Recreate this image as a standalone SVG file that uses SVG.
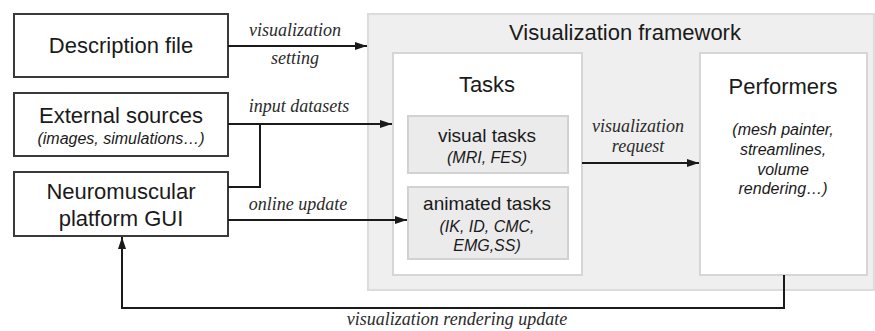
<svg xmlns="http://www.w3.org/2000/svg" width="875" height="331" viewBox="0 0 875 331">
<style>
.box{fill:#ffffff;stroke:#3a3a3a;stroke-width:2}
.frame{fill:#efefef;stroke:#dcdcdc;stroke-width:2}
.inner{fill:#ffffff;stroke:#d6d6d6;stroke-width:2}
.sub{fill:#ebebeb;stroke:#d2d2d2;stroke-width:2}
.t{font-family:"Liberation Sans",Arial,sans-serif;fill:#1a1a1a;text-anchor:middle}
.big{font-size:22px}
.mid{font-size:19px}
.it{font-size:16px;font-style:italic}
.lbl{font-family:"Liberation Serif","Times New Roman",serif;font-style:italic;font-size:18px;fill:#2a2a2a;text-anchor:middle}
.c{fill:none;stroke:#1a1a1a;stroke-width:2}
</style>
<defs>
<marker id="ah" viewBox="0 0 12 8" refX="12" refY="4" markerWidth="12" markerHeight="8" markerUnits="userSpaceOnUse" orient="auto">
<path d="M0,0 L12,4 L0,8 Z" fill="#1a1a1a"/>
</marker>
</defs>
<rect width="875" height="331" fill="#ffffff"/>

<g id="framework">
<rect class="frame" x="368" y="14" width="506" height="276"/>
<text class="t big" x="625" y="40">Visualization framework</text>
</g>
<g id="tasks">
<rect class="inner" x="393" y="53" width="189" height="222"/>
<text class="t big" x="487" y="92">Tasks</text>
</g>
<g id="visual-tasks">
<rect class="sub" x="408" y="116" width="160" height="57"/>
<text class="t mid" x="487" y="142">visual tasks</text>
<text class="t it" x="487" y="163">(MRI, FES)</text>
</g>
<g id="animated-tasks">
<rect class="sub" x="408" y="187" width="160" height="72"/>
<text class="t mid" x="487" y="210">animated tasks</text>
<text class="t it" x="487" y="232">(IK, ID, CMC,</text>
<text class="t it" x="487" y="251">EMG,SS)</text>
</g>
<g id="performers">
<rect class="inner" x="700" y="53" width="167" height="222"/>
<text class="t big" x="783" y="94">Performers</text>
<text class="t it" x="783" y="135">(mesh painter,</text>
<text class="t it" x="783" y="155">streamlines,</text>
<text class="t it" x="783" y="175">volume</text>
<text class="t it" x="783" y="194">rendering…)</text>
</g>
<g id="description-file">
<rect class="box" x="14" y="14" width="214" height="63"/>
<text class="t big" x="121" y="53">Description file</text>
</g>
<g id="external-sources">
<rect class="box" x="14" y="93" width="214" height="63"/>
<text class="t big" x="121" y="123">External sources</text>
<text class="t it" x="121" y="144">(images, simulations…)</text>
</g>
<g id="neuromuscular-gui">
<rect class="box" x="14" y="172" width="214" height="64"/>
<text class="t big" x="121" y="199">Neuromuscular</text>
<text class="t big" x="121" y="226">platform GUI</text>
</g>

<g id="connectors">
<line class="c" x1="228" y1="46" x2="367" y2="46" marker-end="url(#ah)"/>
<text class="lbl" x="295" y="36">visualization</text>
<text class="lbl" x="295" y="64">setting</text>
<line class="c" x1="228" y1="124" x2="392" y2="124" marker-end="url(#ah)"/>
<text class="lbl" x="299" y="112">input datasets</text>
<polyline class="c" points="228,187 260,187 260,124"/>
<line class="c" x1="228" y1="220" x2="407" y2="220" marker-end="url(#ah)"/>
<text class="lbl" x="298" y="210">online update</text>
<line class="c" x1="582" y1="163" x2="699" y2="163" marker-end="url(#ah)"/>
<text class="lbl" x="638" y="132">visualization</text>
<text class="lbl" x="638" y="152">request</text>
<polyline class="c" points="784,275 784,308 122,308 122,237" marker-end="url(#ah)"/>
<text class="lbl" x="457" y="325">visualization rendering update</text>
</g>
</svg>
